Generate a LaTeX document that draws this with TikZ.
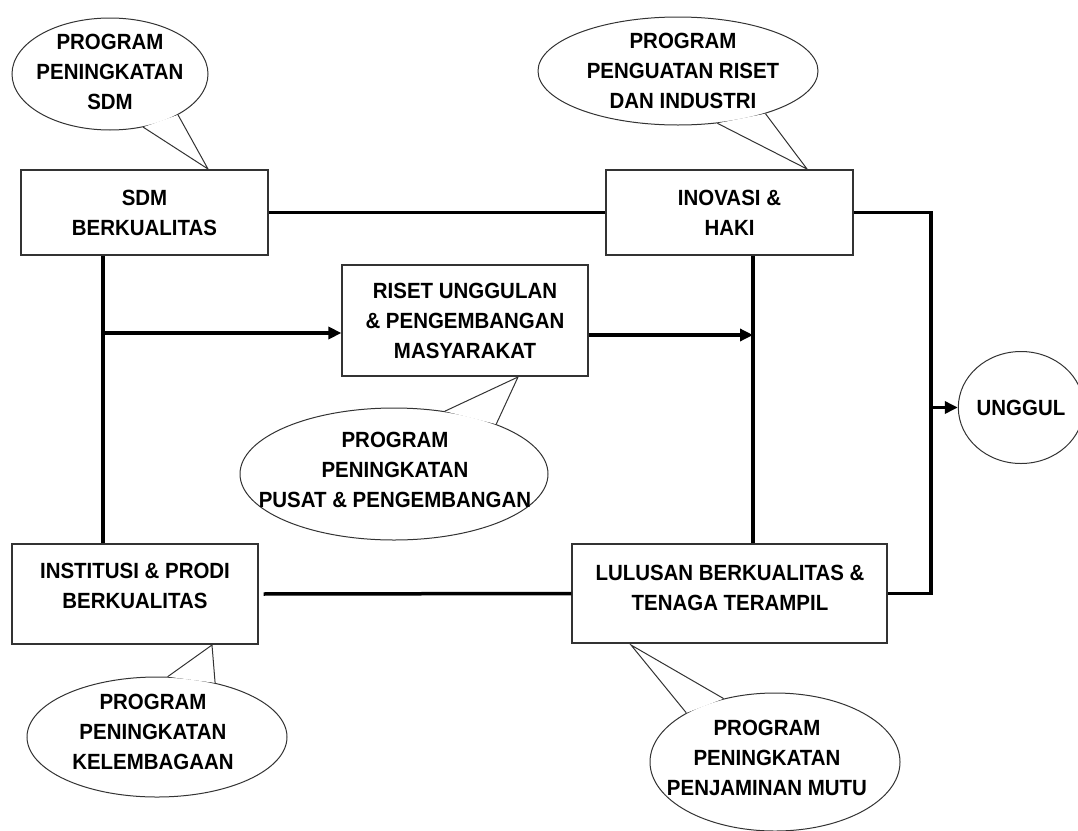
\documentclass[tikz,border=0pt]{standalone}
\usepackage{fontspec}
\newfontfamily\dfont[FakeStretch=0.93]{Liberation Sans}
\usetikzlibrary{shapes.geometric,arrows.meta}
\begin{document}
\begin{tikzpicture}[x=1pt,y=-1pt,
  txt/.style={font=\dfont\bfseries\fontsize{22}{30}\selectfont, align=center, inner sep=0pt},
  box/.style={rectangle, draw=black!80, line width=1.2pt, fill=white, inner sep=0pt, txt},
  bubble/.style={ellipse, draw=black!80, line width=1pt, fill=white, inner sep=0pt},
  conn/.style={line width=3.5pt},
  arrow/.style={conn, -{Triangle[length=13pt,width=12pt]}},
  tail/.style={draw=black!80, line width=1pt, line join=miter}]
\useasboundingbox (0,0) rectangle (1078,830);

% ---- callouts ----
\node[bubble, minimum width=196pt, minimum height=112pt] (c1) at (110,74) {};
\coordinate (t1) at (208,169);
\fill[white] (c1.-58) -- (t1) -- (c1.-31) -- cycle;
\draw[tail] (c1.-58) -- (t1) -- (c1.-31);
\node[txt] (c1t) at (110,72) {PROGRAM\\PENINGKATAN\\SDM};

\node[bubble, minimum width=280pt, minimum height=108pt] (c2) at (678,71) {};
\coordinate (t2) at (807,169);
\fill[white] (c2.-53) -- (t2) -- (c2.-26) -- cycle;
\draw[tail] (c2.-53) -- (t2) -- (c2.-26);
\node[txt] (c2t) at (683,71) {PROGRAM\\PENGUATAN RISET\\DAN INDUSTRI};

\node[bubble, minimum width=308pt, minimum height=132pt] (c3) at (394,474) {};
\coordinate (t3) at (518,377);
\fill[white] (c3.51) -- (t3) -- (c3.26) -- cycle;
\draw[tail] (c3.51) -- (t3) -- (c3.26);
\node[txt] (c3t) at (395,470) {PROGRAM\\PENINGKATAN\\PUSAT \& PENGEMBANGAN};

\node[bubble, minimum width=260pt, minimum height=120pt] (c4) at (157,737) {};
\coordinate (t4) at (212,645);
\fill[white] (c4.80) -- (t4) -- (c4.43) -- cycle;
\draw[tail] (c4.80) -- (t4) -- (c4.43);
\node[txt] (c4t) at (153,732) {PROGRAM\\PENINGKATAN\\KELEMBAGAAN};

\node[bubble, minimum width=250pt, minimum height=138pt] (c5) at (775,762) {};
\coordinate (t5) at (631,645);
\fill[white] (c5.151) -- (t5) -- (c5.129) -- cycle;
\draw[tail] (c5.151) -- (t5) -- (c5.129);
\node[txt] (c5t) at (767,758) {PROGRAM\\PENINGKATAN\\PENJAMINAN MUTU};

% ---- boxes ----
\node[box, minimum width=247pt, minimum height=85pt] (sdm) at (144.5,212.5) {SDM\\BERKUALITAS};
\node[box, minimum width=247pt, minimum height=85pt] (ino) at (729.5,212.5) {INOVASI \&\\HAKI};
\node[box, minimum width=246pt, minimum height=111pt] (ris) at (465,320.5) {RISET UNGGULAN\\\& PENGEMBANGAN\\MASYARAKAT};
\node[box, minimum width=246pt, minimum height=100pt] (ins) at (135,594) {};
\node[txt] (inst) at (135,586) {INSTITUSI \& PRODI\\BERKUALITAS};
\node[box, minimum width=315pt, minimum height=99pt] (lul) at (729.5,593.5) {};
\node[txt] (lult) at (730,587.5) {LULUSAN BERKUALITAS \&\\TENAGA TERAMPIL};
\node[ellipse, draw=black!80, line width=1pt, fill=white, inner sep=0pt, txt,
      minimum width=122pt, minimum height=112pt] (ung) at (1021,407.5) {UNGGUL};

% ---- connectors ----
\coordinate (lj) at (103,333);
\coordinate (rj) at (753,335);
\coordinate (rc) at (931,407.5);

\draw[conn] (sdm.east) -- (ino.west);
\draw[conn] (sdm.south -| lj) -- (ins.north -| lj);
\draw[arrow] (lj) -- (lj -| ris.west);
\draw[arrow] (ris.east |- rj) -- (rj);
\draw[conn] (ino.south -| rj) -- (lul.north -| rj);
\draw[conn, shorten <=5pt] (ins.east) -- (lul.west);
\draw[conn] (ino.east) -| (rc) |- (lul.east);
\draw[arrow] (rc) -- (ung.west);
\end{tikzpicture}
\end{document}
